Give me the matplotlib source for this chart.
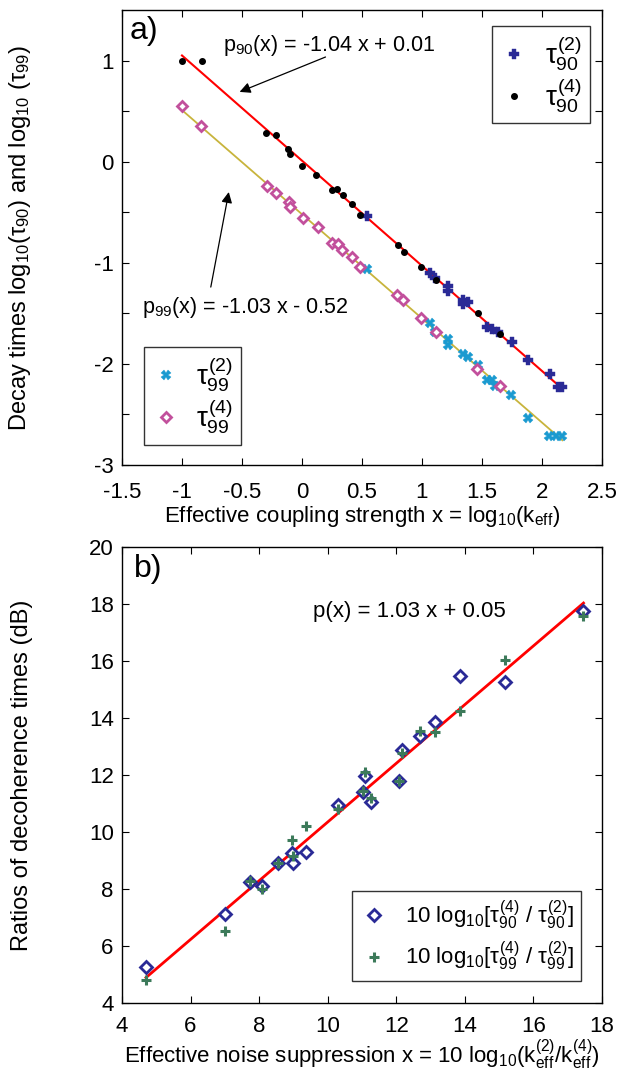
import numpy as np
import matplotlib
matplotlib.use("Agg")
import matplotlib.pyplot as plt

plt.rcParams['font.family'] = ['Liberation Sans', 'DejaVu Sans']
plt.rcParams['mathtext.fontset'] = 'custom'
plt.rcParams['mathtext.rm'] = 'Liberation Sans'
plt.rcParams['mathtext.it'] = 'Liberation Sans'
plt.rcParams['mathtext.bf'] = 'Liberation Sans:bold'

# ---- panel a) data ----
x90_4 = [-1.0, -0.83, -0.30, -0.22, -0.12, -0.10, 0.0, 0.12, 0.25, 0.29, 0.34, 0.42, 0.48,
         0.80, 0.85, 0.99, 1.12, 1.47, 1.65]
y90_4 = [1.0, 1.0, 0.28, 0.26, 0.13, 0.08, -0.04, -0.13, -0.28, -0.27, -0.33, -0.42, -0.53,
         -0.82, -0.89, -1.04, -1.17, -1.50, -1.70]

x90_2 = [0.54, 1.07, 1.11, 1.22, 1.22, 1.34, 1.38, 1.34, 1.54, 1.58, 1.63, 1.75, 1.88,
         2.07, 2.13, 2.17]
y90_2 = [-0.54, -1.10, -1.15, -1.23, -1.28, -1.37, -1.39, -1.41, -1.63, -1.65, -1.68, -1.78,
         -1.96, -2.10, -2.23, -2.23]

x99_4 = [-1.0, -0.84, -0.29, -0.22, -0.11, -0.10, 0.01, 0.13, 0.25, 0.30, 0.33, 0.42, 0.48,
         0.79, 0.84, 0.99, 1.12, 1.46, 1.65]
y99_4 = [0.55, 0.35, -0.24, -0.31, -0.40, -0.45, -0.56, -0.65, -0.80, -0.81, -0.87, -0.94,
         -1.04, -1.32, -1.37, -1.55, -1.68, -2.05, -2.22]

x99_2 = [0.54, 1.07, 1.11, 1.22, 1.22, 1.34, 1.38, 1.47, 1.54, 1.58, 1.61, 1.74, 1.88,
         2.06, 2.12, 2.17]
y99_2 = [-1.06, -1.60, -1.68, -1.75, -1.81, -1.90, -1.93, -2.01, -2.16, -2.16, -2.22, -2.31,
         -2.53, -2.71, -2.71, -2.71]

fit90 = (-1.04, 0.01)
fit99 = (-1.03, -0.52)
fit_range_a = (-1.0, 2.17)

# ---- panel b) data ----
xb = [4.70, 7.01, 7.74, 8.09, 8.56, 8.95, 8.98, 9.36, 10.31, 11.02, 11.10, 11.26, 12.08,
      12.16, 12.70, 13.14, 13.85, 15.16, 17.46]
yb_90 = [5.25, 7.14, 8.23, 8.12, 8.91, 9.25, 8.91, 9.31, 10.93, 11.40, 11.95, 11.07, 11.78,
         12.86, 13.37, 13.85, 15.46, 15.27, 17.74]
yb_99 = [4.79, 6.54, 8.27, 8.01, 8.91, 9.71, 9.17, 10.22, 10.81, 11.45, 12.09, 11.19, 11.80,
         12.77, 13.53, 13.50, 14.26, 16.04, 17.59]
fitb = (1.03, 0.05)
fit_range_b = (4.70, 17.46)

c_blue = '#2a2a96'
c_cyan = '#1a9ad0'
c_pink = '#c2509c'
c_yellow = '#c8b43c'
c_green = '#3c7a5a'


def style_axes(ax, xpad):
    ax.tick_params(direction='in', top=True, right=True, length=5, width=0.8,
                   labelsize=16, pad=6)
    ax.tick_params(axis='x', pad=xpad)
    for s in ax.spines.values():
        s.set_linewidth(1.0)


arrow_kw = dict(arrowstyle='-|>', color='black', lw=0.9, shrinkA=0, shrinkB=0,
                mutation_scale=16)

fig = plt.figure(figsize=(6.23, 10.74), dpi=100)

# ---------------- panel a ----------------
ax1 = fig.add_axes([0.1958, 0.567, 0.7705, 0.4237])
xa = np.array(fit_range_a)
ax1.plot(xa, fit90[0] * xa + fit90[1], color='red', lw=1.5, zorder=2)
ax1.plot(xa, fit99[0] * xa + fit99[1], color=c_yellow, lw=1.3, zorder=2)

h_b2, = ax1.plot(x90_2, y90_2, ls='none', marker='P', ms=7.5, color=c_blue, mec=c_blue,
                 mew=0.3, zorder=3)
h_b4, = ax1.plot(x90_4, y90_4, ls='none', marker='o', ms=4, color='black', zorder=3)
h_c2, = ax1.plot(x99_2, y99_2, ls='none', marker='X', ms=6.5, color=c_cyan, mew=0.3,
                 zorder=3)
h_p4, = ax1.plot(x99_4, y99_4, ls='none', marker='D', ms=5.5, mfc='white', mec=c_pink,
                 mew=2.0, zorder=3)

ax1.set_xlim(-1.5, 2.5)
ax1.set_ylim(-3, 1.5)
ax1.set_xticks(np.arange(-1.5, 2.51, 0.5))
ax1.set_xticklabels(['-1.5', '-1', '-0.5', '0', '0.5', '1', '1.5', '2', '2.5'])
ax1.set_yticks(np.arange(-3, 1.01, 0.5))
ax1.set_yticklabels(['-3', '', '-2', '', '-1', '', '0', '', '1'])
style_axes(ax1, 12)
ax1.set_xlabel(r'Effective coupling strength x = log$_{10}$(k$_{\mathrm{eff}}$)', fontsize=16,
               labelpad=1)
ax1.set_ylabel(r'Decay times log$_{10}$($\tau_{90}$) and log$_{10}$ ($\tau_{99}$)',
               fontsize=17)
ax1.yaxis.set_label_coords(-0.185, 0.5)

ax1.text(-1.44, 1.44, 'a)', fontsize=23, va='top', ha='left')
ax1.text(-0.66, 1.15, r'p$_{90}$(x) = -1.04 x + 0.01', fontsize=15.5, ha='left',
         va='center')
ax1.annotate('', xy=(-0.52, 0.69), xytext=(0.196, 1.035), arrowprops=arrow_kw)
ax1.annotate('', xy=(-0.61, -0.30), xytext=(-0.76, -1.24), arrowprops=arrow_kw)
ax1.text(-1.33, -1.44, r'p$_{99}$(x) = -1.03 x - 0.52', fontsize=15.5, ha='left',
         va='center')

leg1 = ax1.legend([h_b2, h_b4], [r'$\tau^{(2)}_{90}$', r'$\tau^{(4)}_{90}$'],
                  loc='upper right', bbox_to_anchor=(0.975, 0.965), fontsize=20,
                  frameon=True, fancybox=False, edgecolor='black', handlelength=1.0,
                  handletextpad=0.6, borderpad=0.3, labelspacing=0.1, borderaxespad=0)
leg1.get_frame().set_linewidth(1.0)
ax1.add_artist(leg1)
leg2 = ax1.legend([h_c2, h_p4], [r'$\tau^{(2)}_{99}$', r'$\tau^{(4)}_{99}$'],
                  loc='lower left', bbox_to_anchor=(0.045, 0.045), fontsize=20,
                  frameon=True, fancybox=False, edgecolor='black', handlelength=1.0,
                  handletextpad=0.6, borderpad=0.3, labelspacing=0.1, borderaxespad=0)
leg2.get_frame().set_linewidth(1.0)

# ---------------- panel b ----------------
ax2 = fig.add_axes([0.1958, 0.0661, 0.7705, 0.4246])
xbf = np.array(fit_range_b)
ax2.plot(xbf, fitb[0] * xbf + fitb[1], color='red', lw=2.0, zorder=2)
h_d, = ax2.plot(xb, yb_90, ls='none', marker='D', ms=6, mfc='white', mec=c_blue, mew=2.0,
                zorder=3)
h_g, = ax2.plot(xb, yb_99, ls='none', marker='+', ms=7.5, color=c_green, mew=2.2, zorder=4)

ax2.set_xlim(4, 18)
ax2.set_ylim(4, 20)
ax2.set_xticks(np.arange(4, 18.1, 2))
ax2.set_yticks(np.arange(4, 20.1, 2))
style_axes(ax2, 9)
ax2.set_xlabel(r'Effective noise suppression x = 10 log$_{10}$(k$^{(2)}_{\mathrm{eff}}$/k$^{(4)}_{\mathrm{eff}}$)',
               fontsize=16, labelpad=1)
ax2.set_ylabel('Ratios of decoherence times (dB)', fontsize=17)
ax2.yaxis.set_label_coords(-0.185, 0.5)
ax2.text(4.35, 19.75, 'b)', fontsize=23, va='top', ha='left')
ax2.text(9.57, 17.75, 'p(x) = 1.03 x + 0.05', fontsize=16, ha='left', va='center')

leg3 = ax2.legend([h_d, h_g],
                  [r'10 log$_{10}$[$\tau^{(4)}_{90}$ / $\tau^{(2)}_{90}$]',
                   r'10 log$_{10}$[$\tau^{(4)}_{99}$ / $\tau^{(2)}_{99}$]'],
                  loc='lower right', bbox_to_anchor=(0.957, 0.048), fontsize=16,
                  frameon=True, fancybox=False, edgecolor='black', handlelength=1.2,
                  handletextpad=0.8, borderpad=0.35, labelspacing=0.35, borderaxespad=0)
leg3.get_frame().set_linewidth(1.0)

fig.savefig('out.png', dpi=100)
